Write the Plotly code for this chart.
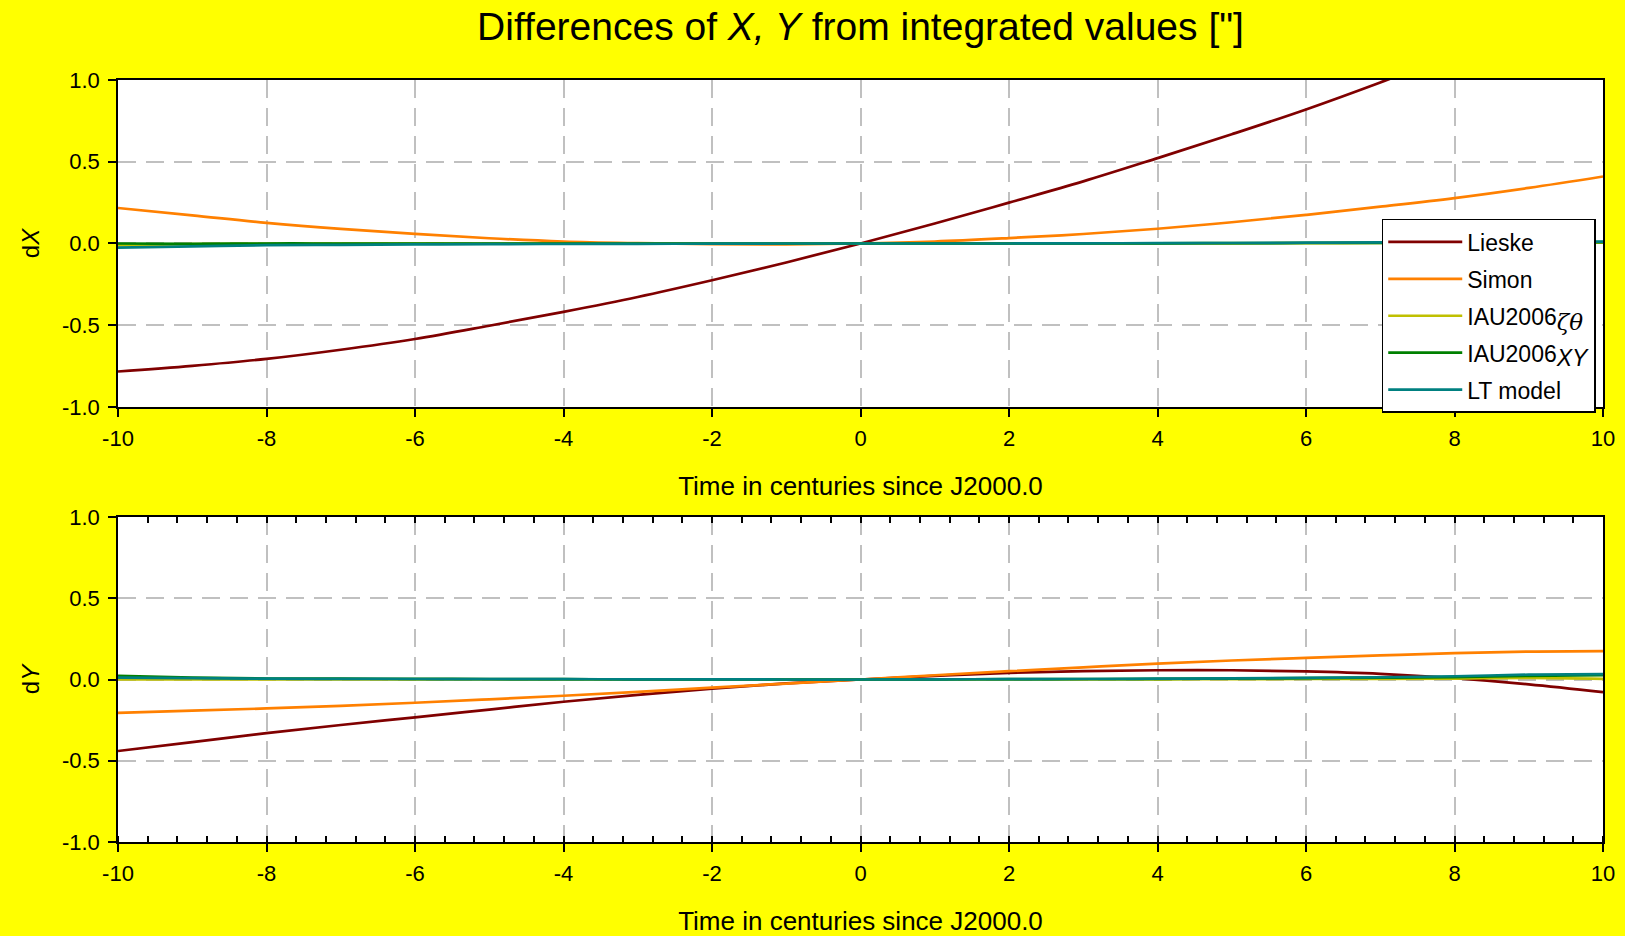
import plotly.graph_objects as go

t = [-10, -9, -8, -7, -6, -5, -4, -3, -2, -1, 0, 1, 2, 3, 4, 5, 6, 7, 8, 9, 10]

# dX (top panel)
dx_lieske = [-0.783, -0.748, -0.706, -0.650, -0.584, -0.503, -0.418, -0.327, -0.225, -0.116, 0.0,
             0.122, 0.250, 0.380, 0.522, 0.668, 0.820, 0.985, 1.16, 1.34, 1.53]
dx_simon = [0.217, 0.172, 0.126, 0.089, 0.059, 0.032, 0.012, 0.002, -0.004, -0.005, 0.0,
            0.012, 0.033, 0.058, 0.090, 0.130, 0.175, 0.225, 0.278, 0.340, 0.410]
dx_iau_zt = [-0.012, -0.004, -0.002, -0.001, -0.001, 0.0, 0.0, 0.0, 0.0, 0.0, 0.0,
             0.0, 0.0, 0.0, 0.001, 0.001, 0.002, 0.003, 0.004, 0.004, 0.005]
dx_iau_xy = [0.0, -0.002, 0.0, 0.0, 0.0, 0.0, 0.0, 0.0, 0.0, 0.0, 0.0,
             0.0, 0.0, 0.001, 0.001, 0.002, 0.003, 0.004, 0.005, 0.006, 0.008]
dx_lt = [-0.025, -0.018, -0.010, -0.008, -0.006, -0.004, -0.003, -0.002, -0.001, 0.0, 0.0,
         0.0, 0.0, 0.001, 0.002, 0.003, 0.005, 0.007, 0.008, 0.010, 0.012]

# dY (bottom panel)
dy_lieske = [-0.440, -0.385, -0.330, -0.280, -0.233, -0.185, -0.137, -0.095, -0.056, -0.024, 0.0,
             0.022, 0.041, 0.052, 0.057, 0.057, 0.050, 0.035, 0.008, -0.030, -0.078]
dy_simon = [-0.205, -0.192, -0.178, -0.162, -0.143, -0.122, -0.100, -0.076, -0.050, -0.025, 0.0,
            0.026, 0.051, 0.075, 0.098, 0.117, 0.133, 0.148, 0.162, 0.172, 0.175]
dy_iau_zt = [0.0, 0.0, 0.0, 0.0, 0.0, 0.0, 0.0, 0.0, 0.0, 0.0, 0.0,
             0.0, 0.0, 0.0, 0.001, 0.002, 0.003, 0.004, 0.006, 0.010, 0.004]
dy_iau_xy = [0.022, 0.012, 0.006, 0.005, 0.004, 0.003, 0.002, 0.001, 0.001, 0.0, 0.0,
             0.001, 0.002, 0.003, 0.004, 0.006, 0.008, 0.011, 0.015, 0.022, 0.027]
dy_lt = [0.012, 0.008, 0.005, 0.004, 0.003, 0.002, 0.002, 0.001, 0.001, 0.0, 0.0,
         0.001, 0.002, 0.003, 0.005, 0.007, 0.010, 0.014, 0.020, 0.030, 0.033]

x_tickvals = [-10, -8, -6, -4, -2, 0, 2, 4, 6, 8, 10]
x_ticktext = ["-10", "-8", "-6", "-4", "-2", "0", "2", "4", "6", "8", "10"]
y_tickvals = [-1.0, -0.5, 0.0, 0.5, 1.0]
y_ticktext = ["-1.0", "-0.5", "0.0", "0.5", "1.0"]

sub_style = "font-size:23px;font-family:DejaVu Serif, serif"
names = ["Lieske", "Simon",
         "IAU2006<sub><span style='%s'><i>ζθ</i></span></sub>" % sub_style,
         "IAU2006<sub><span style='%s'><i>XY</i></span></sub>" % "font-size:23px",
         "LT model"]
colors = ["#800000", "#FF8000", "#C0C000", "#008000", "#008080"]
dx_series = [dx_lieske, dx_simon, dx_iau_zt, dx_iau_xy, dx_lt]
dy_series = [dy_lieske, dy_simon, dy_iau_zt, dy_iau_xy, dy_lt]

fig = go.Figure()
for name, col, dxs in zip(names, colors, dx_series):
    fig.add_trace(go.Scatter(x=t, y=dxs, mode="lines", name=name,
                             line=dict(color=col, width=2.7, shape="spline"),
                             xaxis="x", yaxis="y", legendgroup=name))
for name, col, dys in zip(names, colors, dy_series):
    fig.add_trace(go.Scatter(x=t, y=dys, mode="lines", name=name, showlegend=False,
                             line=dict(color=col, width=2.7, shape="spline"),
                             xaxis="x2", yaxis="y2", legendgroup=name))

font_family = "Liberation Sans, Arial, sans-serif"
grid = dict(showgrid=True, gridcolor="#C0C0C0", gridwidth=1.5, griddash="18px,10px")
common_x = dict(range=[-10, 10], tickmode="array", tickvals=x_tickvals, ticktext=x_ticktext,
                showline=True, linecolor="black", automargin=False,
                linewidth=1.5, mirror=True, ticks="outside", ticklen=8, tickwidth=1.5,
                tickcolor="black", zeroline=False, tickfont=dict(size=22, color="black"),
                ticklabelstandoff=3,
                title=dict(text="Time in centuries since J2000.0", font=dict(size=26, color="black"),
                           standoff=27), **grid)
common_y = dict(range=[-1, 1], tickmode="array", tickvals=y_tickvals, ticktext=y_ticktext,
                showline=True, automargin=False,
                linecolor="black", linewidth=1.5, mirror=True, ticks="outside", ticklen=8,
                tickwidth=1.5, tickcolor="black", zeroline=False, ticklabelstandoff=4,
                tickfont=dict(size=22, color="black"), **grid)

fig.update_layout(
    width=1625, height=936,
    paper_bgcolor="#FFFF00", plot_bgcolor="white",
    font=dict(family=font_family, color="black"),
    margin=dict(l=118, r=22, t=80, b=94, autoexpand=False),
    title=dict(text='Differences of <i>X, Y</i> from integrated values ["]',
               x=0.5, xref="paper", xanchor="center", y=0.972, yanchor="middle",
               font=dict(size=39, color="black")),
    xaxis=dict(domain=[0, 1], anchor="y", **common_x),
    yaxis=dict(domain=[0.5709, 1], anchor="x",
               title=dict(text="d<i>X</i>", font=dict(size=24, color="black"), standoff=16),
               **common_y),
    xaxis2=dict(domain=[0, 1], anchor="y2",
                minor=dict(ticks="inside", tickvals=[v / 10 for v in range(-100, 101, 4)],
                           ticklen=6, tickwidth=1.5, tickcolor="black", showgrid=False),
                **common_x),
    xaxis3=dict(overlaying="x2", anchor="y2", side="top", range=[-10, 10],
                showticklabels=False, ticks="inside", dtick=0.4, tick0=-10, ticklen=6,
                tickwidth=1.5, tickcolor="black", showgrid=False, zeroline=False,
                showline=False, automargin=False),
    yaxis2=dict(domain=[0, 0.4265], anchor="x2",
                title=dict(text="d<i>Y</i>", font=dict(size=24, color="black"), standoff=16),
                **common_y),
    legend=dict(x=0.851, y=0.8176, xref="paper", yref="paper", xanchor="left", yanchor="top",
                bgcolor="white", bordercolor="black", borderwidth=1.5,
                font=dict(size=23, color="black"), tracegroupgap=4, itemwidth=74),
    showlegend=True,
)
fig.add_trace(go.Scatter(x=[None], y=[None], xaxis="x3", yaxis="y2", showlegend=False,
                         hoverinfo="skip"))

fig.write_html("out.html")
